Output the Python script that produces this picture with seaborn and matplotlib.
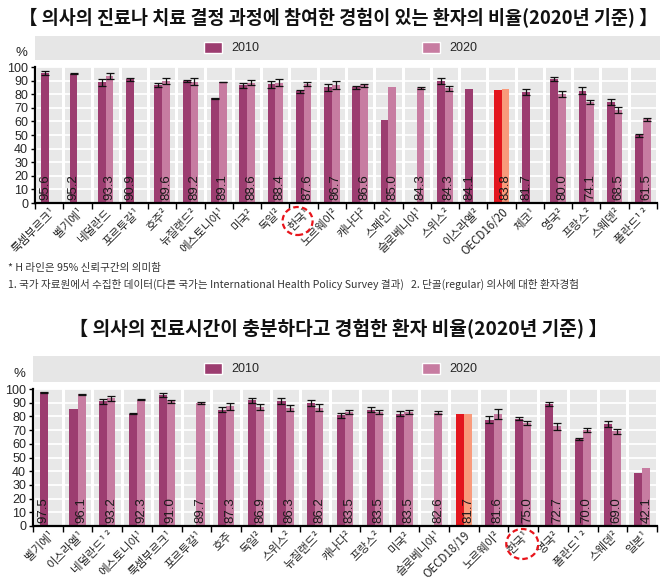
import numpy as np
import pandas as pd
import matplotlib
matplotlib.use("Agg")
import matplotlib.pyplot as plt
import seaborn as sns
from matplotlib.patches import Patch, Rectangle, Ellipse
from matplotlib.transforms import ScaledTranslation
from matplotlib import font_manager

nan = np.nan

# panel 1: involved in decisions about care
cats1 = ["룩셈부르크¹", "벨기에¹", "네덜란드", "포르투갈¹", "호주²", "뉴질랜드²", "에스토니아¹",
         "미국²", "독일²", "한국¹", "노르웨이²", "캐나다²", "스페인¹", "슬로베니아¹", "스위스²",
         "이스라엘²", "OECD16/20", "체코¹", "영국²", "프랑스²", "스웨덴²", "폴란드¹ ²"]
v2010_1 = [95.6, 95.2, 88.8, 90.9, 87.0, 89.7, 77.0, 86.5, 87.3, 82.0, 85.2, 85.1, 60.8, nan,
           89.7, 84.1, 83.2, 81.7, 91.0, 82.6, 74.3, 49.8]
v2020_1 = [nan, nan, 93.3, nan, 89.6, 89.2, 89.1, 88.6, 88.4, 87.6, 86.7, 86.6, 85.0, 84.3,
           84.3, nan, 83.8, nan, 80.0, 74.1, 68.5, 61.5]
err2010_1 = [1.5, 0.5, 2.5, 1.2, 1.5, 1.0, 0.2, 2.0, 2.5, 1.2, 2.5, 1.2, 0, nan,
             2.0, 0, 0, 2.0, 1.5, 2.5, 2.5, 1.0]
err2020_1 = [nan, nan, 2.0, nan, 2.0, 2.5, 0.2, 1.5, 2.5, 1.5, 3.0, 1.2, 0, 0.8,
             2.0, nan, 0, nan, 2.0, 1.5, 2.0, 1.2]

# panel 2: enough time with the doctor
cats2 = ["벨기에¹", "이스라엘¹", "네덜란드¹ ²", "에스토니아¹", "룩셈부르크¹", "포르투갈¹", "호주",
         "독일²", "스위스²", "뉴질랜드²", "캐나다²", "프랑스²", "미국²", "슬로베니아¹", "OECD18/19",
         "노르웨이²", "한국¹", "영국²", "폴란드¹ ²", "스웨덴²", "일본¹"]
v2010_2 = [97.5, 85.4, 91.0, 82.0, 95.6, nan, 85.0, 91.7, 91.1, 89.8, 80.8, 85.0, 82.1, nan,
           82.1, 77.7, 78.2, 88.8, 63.5, 74.5, 38.5]
v2020_2 = [nan, 96.1, 93.2, 92.3, 91.0, 89.7, 87.3, 86.9, 86.3, 86.2, 83.5, 83.5, 83.5, 82.6,
           81.7, 81.6, 75.0, 72.7, 70.0, 69.0, 42.1]
err2010_2 = [0.5, 0, 2.0, 0.2, 1.5, nan, 2.0, 2.0, 2.0, 2.5, 2.0, 2.0, 1.5, nan,
             0, 2.5, 1.0, 1.5, 1.0, 2.0, 0]
err2020_2 = [nan, 0.2, 2.0, 0.2, 1.0, 1.0, 2.5, 2.5, 2.0, 2.5, 1.5, 1.5, 1.5, 1.0,
             0, 3.5, 1.5, 2.5, 1.2, 1.5, 0]

title1 = "【 의사의 진료나 치료 결정 과정에 참여한 경험이 있는 환자의 비율(2020년 기준) 】"
title2 = "【 의사의 진료시간이 충분하다고 경험한 환자 비율(2020년 기준) 】"
note1 = "* H 라인은 95% 신뢰구간의 의미함"
note2 = ("1. 국가 자료원에서 수집한 데이터(다른 국가는 International Health Policy Survey 결과)"
         "   2. 단골(regular) 의사에 대한 환자경험")

C2010 = "#9C3D70"
C2020 = "#C77CA1"
C_OECD10 = "#E3161E"
C_OECD20 = "#F99A7B"

sns.set_theme(style="darkgrid")
installed = {f.name for f in font_manager.fontManager.ttflist}
narrow = "Liberation Sans Narrow" if "Liberation Sans Narrow" in installed else "Liberation Sans"
KR = ["Noto Sans CJK KR", "DejaVu Sans"]
NUM = [narrow, "Noto Sans CJK KR", "DejaVu Sans"]
plt.rcParams["font.family"] = KR


def draw_panel(ax, cats, v10, v20, e10, e20, shift):
    n = len(cats)
    df = pd.DataFrame({
        "country": cats * 2,
        "year": ["2010"] * n + ["2020"] * n,
        "value": np.nan_to_num(np.r_[v10, v20], nan=0.0),
    })
    sns.barplot(data=df, x="country", y="value", hue="year", order=cats,
                hue_order=["2010", "2020"], palette=[C2010, C2020], saturation=1,
                width=0.55, linewidth=0, errorbar=None, legend=False, ax=ax)

    oecd = [i for i, c in enumerate(cats) if c.startswith("OECD")][0]
    ax.containers[0][oecd].set_facecolor(C_OECD10)
    ax.containers[1][oecd].set_facecolor(C_OECD20)

    for cont, vals, errs in zip(ax.containers, [v10, v20], [e10, e20]):
        for bar, v, e in zip(cont, vals, errs):
            if np.isnan(v) or np.isnan(e) or e == 0:
                continue
            ax.errorbar(bar.get_x() + bar.get_width() / 2, bar.get_height(), yerr=e,
                        fmt="none", ecolor="#111111", elinewidth=0.9, capsize=2.8,
                        capthick=0.9)

    for i in range(n):
        if np.isnan(v20[i]):
            bar, val = ax.containers[0][i], v10[i]
        else:
            bar, val = ax.containers[1][i], v20[i]
        ax.text(bar.get_x() + bar.get_width() / 2, 2, f"{val:.1f}", rotation=90,
                ha="center", va="bottom", fontsize=9.5, family=NUM, color="#1a1a1a")

    ax.set_facecolor("#E8E8E8")
    ax.set_axisbelow(True)
    ax.set_xlim(-0.5, n - 0.5)
    ax.set_ylim(0, 100)
    ax.set_yticks(range(0, 101, 10))
    ax.set_yticklabels([str(t) for t in range(0, 101, 10)], family=NUM, fontsize=9)
    ax.set_xticks(range(n))
    ax.set_xticklabels(cats, rotation=45, ha="right", rotation_mode="anchor", fontsize=8.3)
    offset = ScaledTranslation(shift / 72, 0, ax.figure.dpi_scale_trans)
    for lab in ax.get_xticklabels():
        lab.set_transform(lab.get_transform() + offset)
    ax.set_xticks(np.arange(n + 1) - 0.5, minor=True)
    ax.grid(False)
    ax.yaxis.grid(True, color="white", lw=1.3)
    ax.xaxis.grid(True, which="minor", color="white", lw=2.2)
    ax.tick_params(axis="x", which="major", length=0, pad=2)
    ax.tick_params(axis="x", which="minor", length=4, width=1, color="black", direction="out",
                   bottom=True)
    ax.tick_params(axis="y", length=3, width=1, color="black", left=True, pad=2)
    for s in ["top", "right"]:
        ax.spines[s].set_visible(False)
    for s in ["left", "bottom"]:
        ax.spines[s].set_visible(True)
        ax.spines[s].set_color("black")
        ax.spines[s].set_linewidth(1.6)
    ax.set_xlabel("")
    ax.set_ylabel("")


W, H = 660, 580
fig = plt.figure(figsize=(W / 100, H / 100), dpi=100)
fig.patch.set_facecolor("white")

ax1 = fig.add_axes([35 / W, 1 - 203 / H, 622 / W, 136 / H])
ax2 = fig.add_axes([33 / W, 1 - 526 / H, 624 / W, 137 / H])
draw_panel(ax1, cats1, v2010_1, v2020_1, err2010_1, err2020_1, shift=6)
draw_panel(ax2, cats2, v2010_2, v2020_2, err2010_2, err2020_2, shift=7)

handles = [Patch(facecolor=C2010, label="2010"), Patch(facecolor=C2020, label="2020")]
for band_top, band_bot, left, ycen in [(36, 60, 35, 48), (356, 382, 33, 369)]:
    fig.add_artist(Rectangle((left / W, 1 - band_bot / H), 1 - left / W, (band_bot - band_top) / H,
                             transform=fig.transFigure, facecolor="#E6E6E6", edgecolor="none",
                             zorder=0))
    fig.legend(handles=handles, loc="center", bbox_to_anchor=(341 / W, 1 - ycen / H), ncol=2,
               frameon=False, handlelength=1.4, handleheight=1.0, columnspacing=13.0,
               prop={"family": NUM, "size": 9})

fig.text(21 / W, 1 - 53 / H, "%", ha="center", va="center", family=NUM, fontsize=9.5)
fig.text(19 / W, 1 - 374 / H, "%", ha="center", va="center", family=NUM, fontsize=9.5)

fig.text(338 / W, 1 - 18 / H, title1, ha="center", va="center", fontsize=13.3, fontweight="bold",
         color="#111111")
fig.text(338 / W, 1 - 329 / H, title2, ha="center", va="center", fontsize=13.8, fontweight="bold",
         color="#111111")
fig.text(8 / W, 1 - 268 / H, note1, ha="left", va="center", fontsize=7.6, color="#333333")
fig.text(8 / W, 1 - 284 / H, note2, ha="left", va="center", fontsize=7.6, color="#333333")

# dashed circle around Korea's label
inv = fig.transFigure.inverted()
for ax, cats, dx, dy, w, h in [(ax1, cats1, -6, 18, 30, 28), (ax2, cats2, -1, 18, 32, 30)]:
    k = cats.index("한국¹")
    px, py = ax.transData.transform((k, 0))
    cx, cy = inv.transform((px + dx, py - dy))
    fig.add_artist(Ellipse((cx, cy), w / W, h / H, transform=fig.transFigure, fill=False,
                           edgecolor="#E8141B", lw=1.6, linestyle=(0, (2.5, 1.5))))

fig.savefig("out.png", dpi=100)
